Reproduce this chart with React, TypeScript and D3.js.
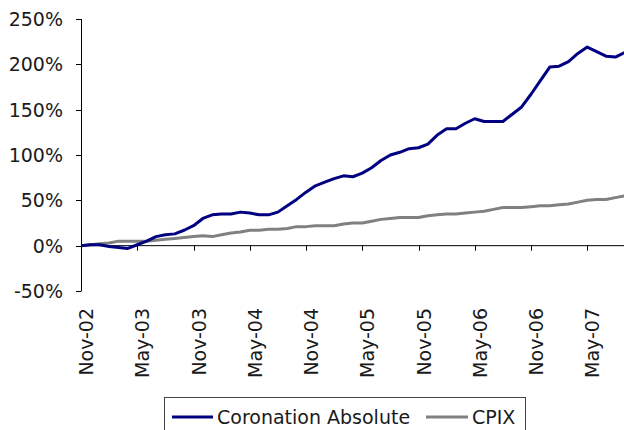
import React from "react";
import * as d3 from "d3";

// monthly categories, Nov-02 .. Sep-07
const months: string[] = d3
  .timeMonth.range(new Date(2002, 10, 1), new Date(2007, 9, 1))
  .map((d) => d3.timeFormat("%b-%y")(d));

const coronation = [
  0, 1, 1, -1, -2, -3, 1, 5, 10, 12, 13, 17, 22, 30, 34, 35, 35, 37, 36, 34,
  34, 37, 44, 51, 59, 66, 70, 74, 77, 76, 80, 86, 94, 100, 103, 107, 108, 112, 122, 129,
  129, 135, 140, 137, 137, 137, 145, 153, 167, 182, 197, 198, 203, 212, 219, 214, 209, 208, 213,
];

const cpix = [
  0, 1, 2, 3, 5, 5, 5, 5, 6, 7, 8, 9, 10, 11, 10, 12, 14, 15, 17, 17,
  18, 18, 19, 21, 21, 22, 22, 22, 24, 25, 25, 27, 29, 30, 31, 31, 31, 33, 34, 35,
  35, 36, 37, 38, 40, 42, 42, 42, 43, 44, 44, 45, 46, 48, 50, 51, 51, 53, 55,
];

const xTickLabels = [
  "Nov-02", "May-03", "Nov-03", "May-04", "Nov-04",
  "May-05", "Nov-05", "May-06", "Nov-06", "May-07",
];
const yTicks = [-50, 0, 50, 100, 150, 200, 250];

const series = [
  { name: "Coronation Absolute", values: coronation, color: "#000080" },
  { name: "CPIX", values: cpix, color: "#808080" },
];

const App = () => {
  const width = 624;
  const height = 430;
  const font = "'DejaVu Sans', sans-serif";

  const xScale = d3
    .scalePoint<string>()
    .domain(months)
    .range([81, 81 + (months.length - 1) * 9.375]);

  const yScale = d3.scaleLinear().domain([-50, 250]).range([291, 19]);
  const y0 = yScale(0);

  const line = (vals: number[]) =>
    d3
      .line<number>()
      .x((_, i) => xScale(months[i]) as number)
      .y((v) => yScale(v))(vals) as string;

  return (
    <svg
      width={width}
      height={height}
      viewBox={`0 0 ${width} ${height}`}
      style={{ position: "absolute", left: 0, top: 0, background: "#fff" }}
      fontFamily={font}
    >
      {/* y axis */}
      <line x1={81.5} x2={81.5} y1={yScale(250)} y2={yScale(-50)} stroke="#000" />
      {yTicks.map((t) => (
        <g key={t}>
          <line x1={76} x2={81.5} y1={Math.round(yScale(t)) + 0.5} y2={Math.round(yScale(t)) + 0.5} stroke="#000" />
          <text x={63} y={yScale(t)} dy="0.36em" textAnchor="end" fontSize={19} fill="#1a1a1a">
            {t}%
          </text>
        </g>
      ))}

      {/* x axis at 0% */}
      <line x1={81} x2={width} y1={y0} y2={y0} stroke="#000" />
      {xTickLabels.map((m) => {
        const x = Math.round(xScale(m) as number) + 0.5;
        return (
          <g key={m}>
            <line x1={x} x2={x} y1={y0} y2={y0 + 5} stroke="#000" />
            <text
              transform={`translate(${x + 5},308) rotate(-90)`}
              dy="0.36em"
              textAnchor="end"
              fontSize={19}
              fill="#1a1a1a"
            >
              {m}
            </text>
          </g>
        );
      })}

      {/* series */}
      {series
        .slice()
        .reverse()
        .map((s) => (
          <path
            key={s.name}
            d={line(s.values)}
            fill="none"
            stroke={s.color}
            strokeWidth={3}
            strokeLinejoin="round"
          />
        ))}

      {/* legend */}
      <rect x={164.5} y={397.5} width={361} height={40} fill="#fff" stroke="#444" />
      <line x1={172} x2={213} y1={417} y2={417} stroke={series[0].color} strokeWidth={3} />
      <text x={217} y={417} dy="0.36em" fontSize={19} fill="#1a1a1a">
        {series[0].name}
      </text>
      <line x1={426} x2={468} y1={417} y2={417} stroke={series[1].color} strokeWidth={3} />
      <text x={472} y={417} dy="0.36em" fontSize={19} fill="#1a1a1a">
        {series[1].name}
      </text>
    </svg>
  );
};

export default App;
